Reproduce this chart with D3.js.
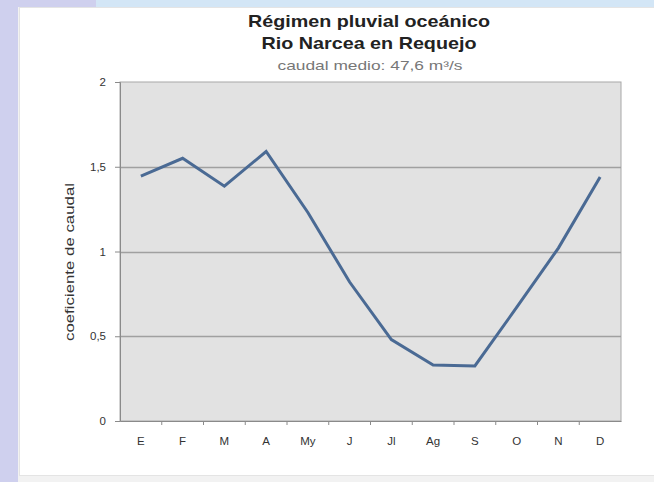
<!DOCTYPE html>
<html>
<head>
<meta charset="utf-8">
<script src="https://cdn.jsdelivr.net/npm/d3@7"></script>
<style>
  body { margin: 0; background: #fff; }
  svg { display: block; font-family: Arial, "Liberation Sans", sans-serif; }
</style>
</head>
<body>
<script>
// monthly flow coefficients, Rio Narcea at Requejo
var months = ["E", "F", "M", "A", "My", "J", "Jl", "Ag", "S", "O", "N", "D"];
var coef = [1.445, 1.55, 1.385, 1.59, 1.23, 0.82, 0.48, 0.33, 0.325, 0.67, 1.02, 1.44];
var yTicks = [0, 0.5, 1, 1.5, 2];
var titleLines = ["Régimen pluvial oceánico", "Rio Narcea en Requejo"];
var subtitle = "caudal medio: 47,6 m³/s";
var yLabel = "coeficiente de caudal";

var width = 654, height = 482;
var plot = {left: 120, right: 621, top: 82, bottom: 421};

var svg = d3.select(document.body).append("svg")
  .attr("width", width).attr("height", height);

// page background bits around the card
svg.append("rect").attr("width", width).attr("height", height).attr("fill", "#f2f2f2");
svg.append("rect").attr("x", 0).attr("y", 0).attr("width", width).attr("height", 7).attr("fill", "#d3e6f6");
svg.append("rect").attr("x", 0).attr("y", 0).attr("width", 96).attr("height", 7).attr("fill", "#cfd0ee");
svg.append("rect").attr("x", 0).attr("y", 0).attr("width", 18).attr("height", height).attr("fill", "#cfd0ee");

// white chart card
svg.append("rect")
  .attr("x", 19.5).attr("y", 7.5).attr("width", width - 19).attr("height", 468)
  .attr("fill", "#fff").attr("stroke", "#e4e4e4");

var x = d3.scaleBand().domain(months).range([plot.left, plot.right]);
var y = d3.scaleLinear().domain([0, 2]).range([plot.bottom, plot.top]);

// plot area
svg.append("rect")
  .attr("x", plot.left).attr("y", plot.top)
  .attr("width", plot.right - plot.left).attr("height", plot.bottom - plot.top)
  .attr("fill", "#e2e2e2").attr("stroke", "#a8a8a8");

// gridlines
svg.append("g").selectAll("line")
  .data(yTicks.slice(1, -1))
  .enter().append("line")
  .attr("x1", plot.left).attr("x2", plot.right)
  .attr("y1", function(d) { return Math.round(y(d)) + 0.5; })
  .attr("y2", function(d) { return Math.round(y(d)) + 0.5; })
  .attr("stroke", "#a0a0a0").attr("stroke-width", 1.6);

var fmt = function(d) { return String(d).replace(".", ","); };

// y axis
var yAxis = svg.append("g")
  .attr("transform", "translate(" + plot.left + ",0)")
  .call(d3.axisLeft(y).tickValues(yTicks).tickFormat(fmt).tickSize(5).tickPadding(9));
yAxis.select(".domain").attr("stroke", "#8a8a8a");
yAxis.selectAll(".tick line").attr("stroke", "#8a8a8a");
yAxis.selectAll("text").attr("font-size", 11.5).attr("fill", "#333");

// x axis, ticks at band boundaries
var xAxis = svg.append("g")
  .attr("transform", "translate(0," + plot.bottom + ")")
  .call(d3.axisBottom(x).tickSize(0).tickPadding(16));
xAxis.select(".domain").attr("stroke", "#8a8a8a");
xAxis.selectAll("text").attr("font-size", 11.5).attr("fill", "#333");
xAxis.selectAll(".bound")
  .data(months.slice(1))
  .enter().append("line")
  .attr("class", "bound")
  .attr("x1", function(d) { return x(d); }).attr("x2", function(d) { return x(d); })
  .attr("y1", 0).attr("y2", 4)
  .attr("stroke", "#8a8a8a");

// the line
var line = d3.line()
  .x(function(d, i) { return x(months[i]) + x.bandwidth() / 2; })
  .y(function(d) { return y(d); });

svg.append("path")
  .datum(coef)
  .attr("d", line)
  .attr("fill", "none")
  .attr("stroke", "#4a6a94")
  .attr("stroke-width", 3)
  .attr("stroke-linejoin", "miter");

// titles (the source image is stretched sideways, so fit the widths)
var titleWidths = [242, 215];
svg.selectAll(".title")
  .data(titleLines)
  .enter().append("text")
  .attr("class", "title")
  .attr("x", 369)
  .attr("y", function(d, i) { return 27 + i * 22; })
  .attr("text-anchor", "middle")
  .attr("font-size", 17).attr("font-weight", "bold")
  .attr("fill", "#222")
  .attr("textLength", function(d, i) { return titleWidths[i]; })
  .attr("lengthAdjust", "spacingAndGlyphs")
  .text(function(d) { return d; });

svg.append("text")
  .attr("x", 370).attr("y", 70)
  .attr("text-anchor", "middle")
  .attr("font-size", 13).attr("fill", "#777")
  .attr("textLength", 185)
  .attr("lengthAdjust", "spacingAndGlyphs")
  .text(subtitle);

svg.append("text")
  .attr("transform", "translate(74,262) rotate(-90)")
  .attr("text-anchor", "middle")
  .attr("font-size", 12).attr("fill", "#333")
  .attr("textLength", 158)
  .attr("lengthAdjust", "spacingAndGlyphs")
  .text(yLabel);
</script>
</body>
</html>
